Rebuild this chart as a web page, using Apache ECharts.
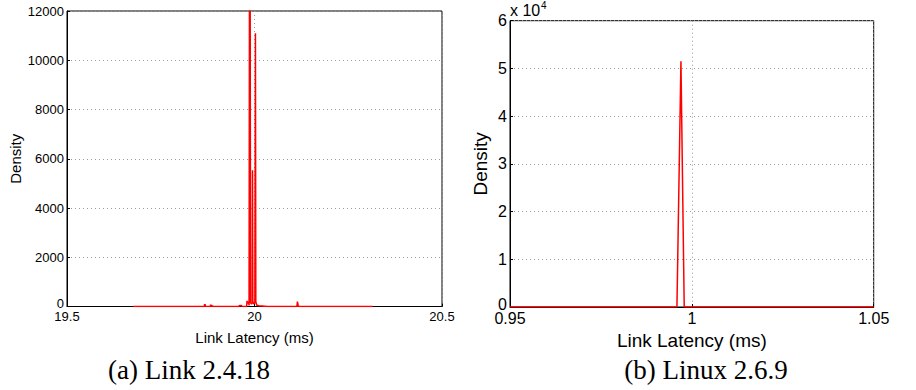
<!DOCTYPE html>
<html>
<head>
<meta charset="utf-8">
<script src="https://cdn.jsdelivr.net/npm/echarts@6/dist/echarts.min.js"></script>
<style>
html,body{margin:0;padding:0;background:#fff;}
#c{width:916px;height:390px;}
</style>
</head>
<body>
<div id="c"></div>
<script>
// Panel (a) Link 2.4.18
const leftX = [19.677,19.866,19.867,19.868,19.8685,19.869,19.87,19.882,19.883,19.884,19.885,19.886,19.888,19.889,19.958,19.96,19.962,19.964,19.968,19.979,19.98,19.982,19.984,19.9855,19.9865,19.9885,19.9895,19.992,19.994,19.9947,19.9955,19.998,20.001,20.0025,20.0035,20.006,20.012,20.02,20.035,20.113,20.1145,20.1155,20.117,20.315];
const leftY = [0,0,100,20,90,10,0,0,70,30,60,0,40,0,0,45,30,50,0,0,230,120,200,40,12000,12000,150,100,150,5530,200,100,150,11100,200,50,30,20,0,0,200,200,0,0];
const leftXTicks = [19.5, 20, 20.5];
const leftYTicks = [0, 2000, 4000, 6000, 8000, 10000, 12000];

// Panel (b) Linux 2.6.9
const rightX = [0.95, 0.9959, 0.9970, 0.9979, 1.05];
const rightY = [0, 0, 51500, 0, 0];
const rightXTicks = [0.95, 1, 1.05];
const rightYTicks = [0, 10000, 20000, 30000, 40000, 50000, 60000];

const captions = ['(a) Link 2.4.18', '(b) Linux 2.6.9'];
const xName = 'Link Latency (ms)';
const yName = 'Density';

const FONT = 'Liberation Sans, Arial, Helvetica, sans-serif';
const chart = echarts.init(document.getElementById('c'), null, {renderer: 'svg'});

function xAxisCfg(idx, ticks, fs, nfs, gap) {
  return {
    type: 'value', gridIndex: idx,
    min: ticks[0], max: ticks[ticks.length - 1], interval: ticks[1] - ticks[0],
    name: xName, nameLocation: 'middle', nameGap: gap,
    nameTextStyle: {fontFamily: FONT, fontSize: nfs, color: '#000'},
    axisLine: {show: true, onZero: false, lineStyle: {color: '#000', width: 1}},
    axisTick: {show: true, inside: true, length: 3, lineStyle: {color: '#000'}},
    axisLabel: {fontFamily: FONT, fontSize: fs, color: '#000', margin: 3,
      formatter: v => String(+v.toFixed(4))},
    splitLine: {show: true, lineStyle: {color: '#999', type: [1, 3], width: 1}}
  };
}
function yAxisCfg(idx, ticks, fs, nfs, gap, fmt) {
  return {
    type: 'value', gridIndex: idx,
    min: ticks[0], max: ticks[ticks.length - 1], interval: ticks[1] - ticks[0],
    name: yName, nameLocation: 'middle', nameGap: gap,
    nameTextStyle: {fontFamily: FONT, fontSize: nfs, color: '#000'},
    axisLine: {show: true, lineStyle: {color: '#000', width: 1}},
    axisTick: {show: true, inside: true, length: 3, lineStyle: {color: '#000'}},
    axisLabel: {fontFamily: FONT, fontSize: fs, color: '#000', margin: 3,
      formatter: v => (v === 0 ? '{z|0}' : fmt(v)),
      rich: {z: {fontFamily: FONT, fontSize: fs, color: '#000', padding: [0, 0, 6, 0]}}},
    splitLine: {show: true, lineStyle: {color: '#999', type: [1, 3], width: 1}}
  };
}

chart.setOption({
  animation: false,
  backgroundColor: '#fff',
  grid: [
    {left: 67, top: 11, width: 375, height: 295.5, show: true, borderColor: '#000', borderWidth: 1, backgroundColor: '#fff'},
    {left: 510, top: 20.7, width: 363.7, height: 286.3, show: true, borderColor: '#000', borderWidth: 1, backgroundColor: '#fff'}
  ],
  xAxis: [
    xAxisCfg(0, leftXTicks, 13, 15, 23),
    xAxisCfg(1, rightXTicks, 16, 19, 19)
  ],
  yAxis: [
    yAxisCfg(0, leftYTicks, 13, 15, 44, v => String(v)),
    yAxisCfg(1, rightYTicks, 16, 19, 20, v => String(v / 10000))
  ],
  series: [
    {type: 'line', xAxisIndex: 0, yAxisIndex: 0, data: leftX.map((x, i) => [x, leftY[i]]),
      showSymbol: false, symbol: 'none', lineStyle: {color: '#ff0000', width: 1.5}, itemStyle: {color: '#ff0000'}, clip: true, z: 5},
    {type: 'line', xAxisIndex: 1, yAxisIndex: 1, data: rightX.map((x, i) => [x, rightY[i]]),
      showSymbol: false, symbol: 'none', lineStyle: {color: '#ff0000', width: 1.5}, itemStyle: {color: '#ff0000'}, clip: true, z: 5}
  ],
  graphic: [
    {type: 'text', left: 510, top: 2, style: {text: 'x 10', font: '16px ' + FONT, fill: '#000'}},
    {type: 'text', left: 541, top: 0, style: {text: '4', font: '10px ' + FONT, fill: '#000'}},
    {type: 'text', x: 189, y: 370, style: {text: captions[0], font: '27px "Liberation Serif", "Times New Roman", serif', fill: '#000', textAlign: 'center', textVerticalAlign: 'middle'}},
    {type: 'text', x: 706, y: 370, style: {text: captions[1], font: '27px "Liberation Serif", "Times New Roman", serif', fill: '#000', textAlign: 'center', textVerticalAlign: 'middle'}}
  ]
});
</script>
</body>
</html>
